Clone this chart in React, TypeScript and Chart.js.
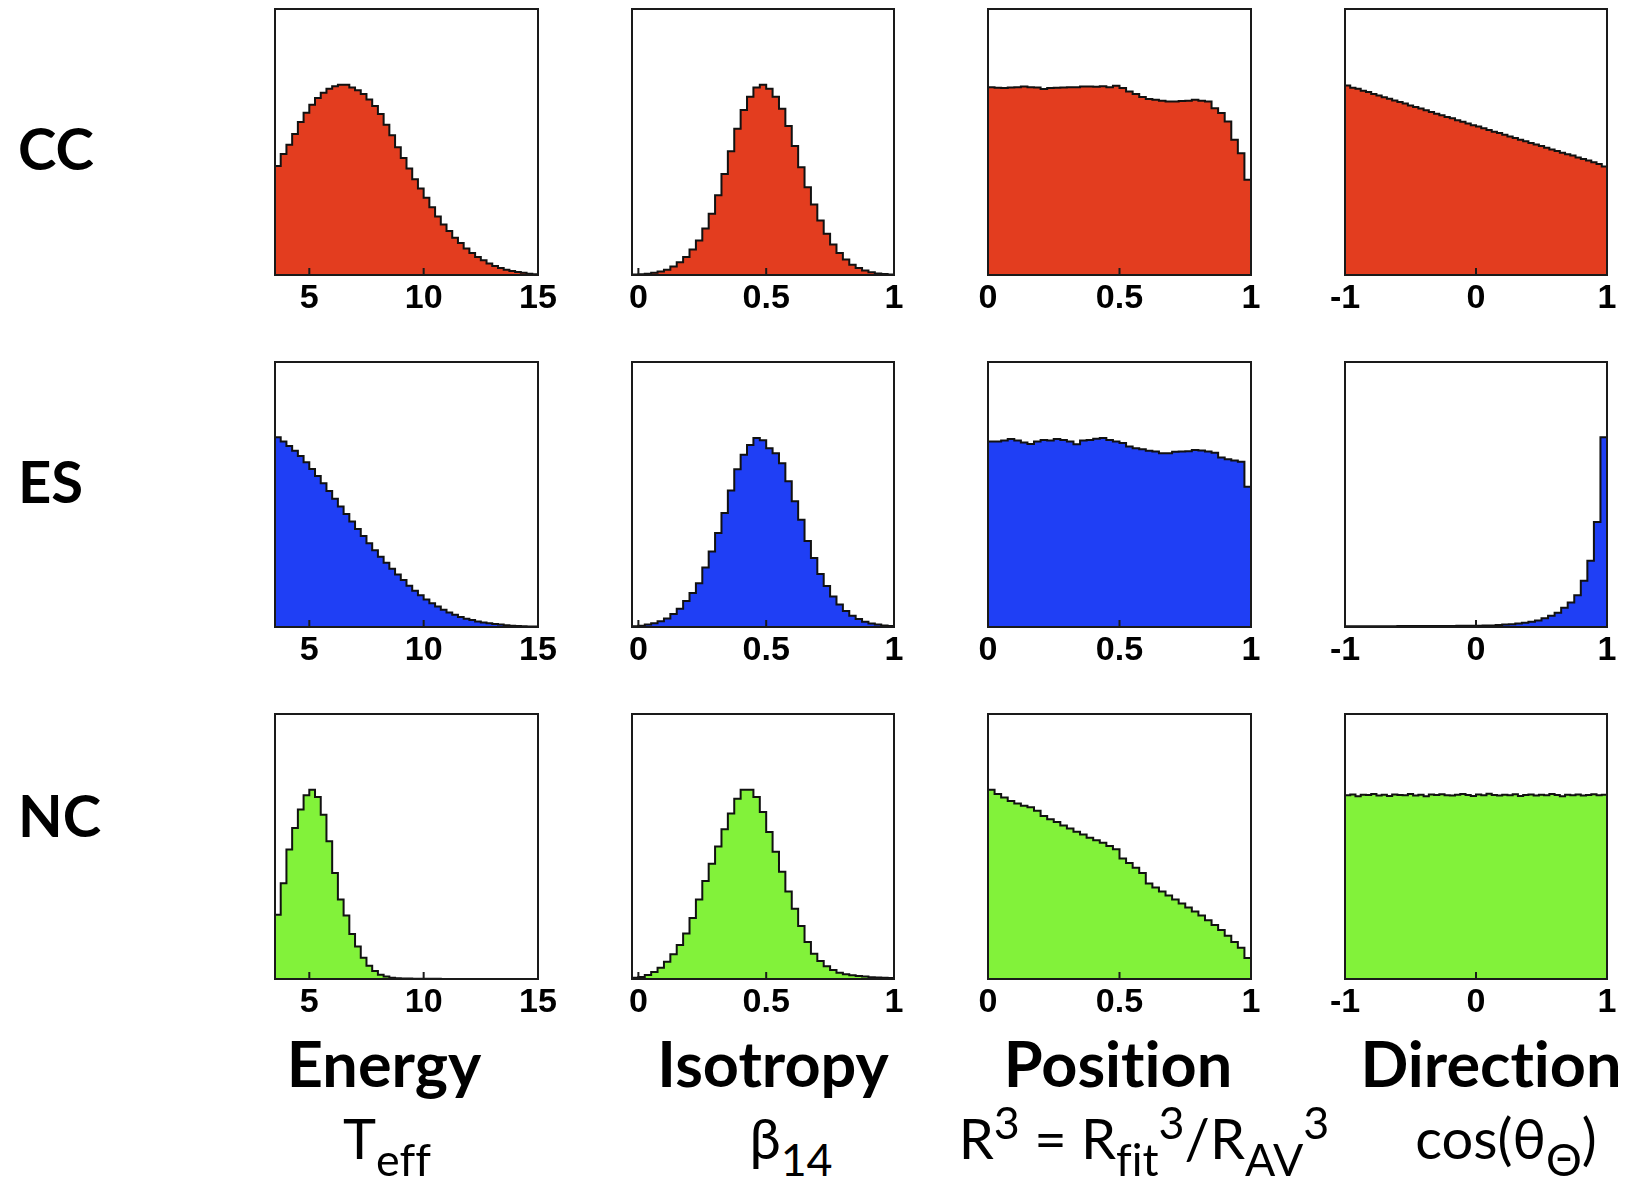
import React, { useEffect, useRef } from "react";
import { Chart, registerables } from "chart.js";
Chart.register(...registerables);

// ---------------- DATA ----------------
const rowLabels = ["CC", "ES", "NC"];
const colTitles = ["Energy", "Isotropy", "Position", "Direction"];

const energyRange = [3.5, 15];
const isotropyRange = [-0.025, 1];
const positionRange = [0, 1];
const directionRange = [-1, 1];

const energyTicks = [5, 10, 15];
const isotropyTicks = [0, 0.5, 1];
const positionTicks = [0, 0.5, 1];
const directionTicks = [-1, 0, 1];

const ccEnergy = [41, 45.5, 49, 53, 57.5, 61, 64, 66.5, 68.5, 70, 71, 71.5, 71.5, 70.5, 69.5, 68, 66, 63.5, 60.5, 56.5, 52.5, 48, 44, 40, 36, 32.5, 29, 25.5, 22, 19, 16.5, 14, 12, 10, 8.3, 6.8, 5.5, 4.3, 3.4, 2.6, 2, 1.5, 1.1, 0.8, 0.5, 0.3];
const ccIsotropy = [0.2, 0.3, 0.5, 0.8, 1.3, 2.0, 3.2, 4.8, 6.8, 9.6, 13, 17.5, 23, 30, 38, 46.5, 55, 62, 67, 70.5, 71.5, 70, 67, 62.5, 56, 48.5, 40.5, 33, 26.5, 20.5, 15.5, 11.5, 8.3, 5.8, 3.9, 2.6, 1.7, 1.0, 0.6, 0.4, 0.2];
const ccPosition = [70.6, 70.4, 70.3, 70.5, 70.6, 70.9, 70.6, 70.5, 69.9, 70.3, 70.4, 70.5, 70.6, 70.6, 70.9, 70.9, 70.8, 71, 70.6, 71.1, 70.3, 69, 68, 66.9, 66.2, 65.9, 65.5, 65.2, 65.2, 65.4, 65.5, 65.9, 65.5, 65.2, 62.7, 60.9, 57.7, 50.8, 45.8, 35.8];
const ccDirection = [71.2, 70.4, 70.0, 69.3, 68.8, 68.0, 67.5, 66.8, 66.3, 65.6, 65.0, 64.5, 63.7, 63.2, 62.6, 61.9, 61.3, 60.6, 60.1, 59.4, 58.9, 58.2, 57.6, 57.0, 56.3, 55.8, 55.2, 54.5, 53.9, 53.4, 52.7, 52.1, 51.5, 50.8, 50.3, 49.6, 49.1, 48.5, 47.8, 47.2, 46.6, 46.0, 45.4, 44.9, 44.2, 43.6, 43.0, 42.4, 41.7, 40.8];

const esEnergy = [71.6, 70.0, 68.3, 66.5, 64.5, 62.2, 59.6, 57.0, 54.2, 51.3, 48.4, 45.5, 42.6, 39.8, 37.0, 34.3, 31.6, 29.0, 26.5, 24.2, 22.0, 19.8, 17.7, 15.6, 13.7, 12.0, 10.4, 9.0, 7.7, 6.5, 5.5, 4.6, 3.8, 3.1, 2.6, 2.1, 1.7, 1.4, 1.1, 0.9, 0.7, 0.5, 0.4, 0.3, 0.2, 0.15];
const esIsotropy = [0.3, 0.5, 0.9, 1.4, 2.2, 3.2, 4.9, 6.9, 9.8, 12.8, 16.5, 22.5, 28.5, 35.5, 43, 51.5, 59.5, 65, 68.7, 71.3, 70.5, 67.5, 65.6, 61.8, 55, 47.5, 40.5, 32.5, 26, 20, 15.5, 11.5, 8.5, 6, 4.2, 3, 2, 1.3, 0.9, 0.6, 0.4];
const esPosition = [70, 70, 70.4, 70.9, 70.4, 69.6, 69.1, 70, 70.6, 70.4, 70.9, 70.6, 70, 69, 70.4, 70.6, 71, 71.3, 70.6, 70, 69.4, 68.1, 67.5, 67.1, 66.5, 66.2, 65.6, 65.6, 66.1, 66.2, 66.3, 66.8, 66.6, 66.2, 65.8, 64, 63.3, 62.8, 62.4, 52.9];
const esDirection = [0.30, 0.30, 0.31, 0.31, 0.32, 0.32, 0.33, 0.33, 0.34, 0.35, 0.35, 0.36, 0.37, 0.38, 0.39, 0.40, 0.42, 0.43, 0.45, 0.47, 0.5, 0.55, 0.6, 0.75, 0.9, 1.0, 1.3, 1.6, 2.0, 2.5, 3.3, 4.2, 5.4, 7.3, 9.2, 12.0, 17.5, 25, 39.6, 71.6];

const ncEnergy = [24.2, 36.1, 48.9, 57, 64, 69.3, 71.4, 68.7, 62, 52, 40, 30, 24, 17, 12.3, 8, 5, 3, 1.6, 0.9, 0.5, 0.3, 0.2, 0.15, 0.1, 0.1, 0.08, 0.06, 0.05, 0.04, 0.03, 0.03, 0.02, 0.02, 0.02, 0.01, 0.01, 0.01, 0.01, 0.01, 0, 0, 0, 0, 0, 0];
const ncIsotropy = [0.5, 0.8, 1.5, 2.6, 4.2, 6.5, 9.3, 12.8, 17.2, 23, 30, 37, 43.5, 50, 56.5, 62.5, 68, 71.4, 71.4, 68.7, 63, 55.5, 48, 40.5, 33, 26.5, 20, 14, 9.5, 6.8, 4.8, 3.4, 2.4, 1.8, 1.4, 1.1, 0.9, 0.7, 0.6, 0.5, 0.4];
const ncPosition = [71.4, 69.8, 68.5, 67.2, 66.2, 65.4, 64.8, 63.5, 61.5, 60.3, 59.2, 57.9, 56.8, 55.6, 54.5, 53.3, 52.4, 51.4, 50.2, 49.0, 45.5, 43.8, 42, 40, 36, 34.5, 33, 31.5, 30, 28.5, 27, 25.5, 24, 22.2, 20.4, 18.5, 16.3, 14, 11.8, 7.9];
const ncDirection = [69.3, 69.6, 69.0, 69.5, 69.4, 69.8, 69.2, 69.5, 69.1, 69.6, 69.4, 69.3, 69.8, 69.2, 69.5, 69.0, 69.6, 69.4, 69.7, 69.3, 69.2, 69.5, 69.8, 69.4, 69.1, 69.6, 69.3, 69.9, 69.4, 69.2, 69.5, 69.3, 69.7, 69.1, 69.4, 69.6, 69.2, 69.5, 69.3, 69.8, 69.4, 69.0, 69.5, 69.3, 69.6, 69.2, 69.4, 69.7, 69.3, 69.5];

const rowColors = ["#e33d1f", "#1f3ff5", "#82f23a"];

const grid = [
  [ccEnergy, ccIsotropy, ccPosition, ccDirection],
  [esEnergy, esIsotropy, esPosition, esDirection],
  [ncEnergy, ncIsotropy, ncPosition, ncDirection],
];
const colRanges = [energyRange, isotropyRange, positionRange, directionRange];
const colTicks = [energyTicks, isotropyTicks, positionTicks, directionTicks];

// ---------------- LAYOUT ----------------
const FRAME_L = [275, 632, 988, 1345];
const FRAME_R = [538, 894, 1251, 1607];
const FRAME_T = [9, 362, 714];
const FRAME_B = [275, 627, 979];
const PADX = 45;
const PADT = 10;
const AXH = 50;

const framePlugin = {
  id: "frameBox",
  afterDatasetsDraw(chart: any) {
    const { ctx, chartArea: a, scales } = chart;
    ctx.save();
    ctx.strokeStyle = "#1a1a1a";
    ctx.lineWidth = 2;
    ctx.strokeRect(a.left, a.top, a.right - a.left, a.bottom - a.top);
    for (const t of scales.x.ticks) {
      const px = scales.x.getPixelForValue(t.value);
      ctx.beginPath();
      ctx.moveTo(px, a.bottom);
      ctx.lineTo(px, a.bottom - 7);
      ctx.stroke();
    }
    ctx.restore();
  },
};

function HistPanel(props: { values: number[]; range: number[]; ticks: number[]; color: string; L: number; R: number; T: number; B: number }) {
  const { values, range, ticks, color, L, R, T, B } = props;
  const ref = useRef<HTMLCanvasElement>(null);
  const width = R - L + 2 * PADX;
  const height = B - T + PADT + AXH;
  useEffect(() => {
    const [min, max] = range;
    const n = values.length;
    const w = (max - min) / n;
    const pts = values.map((v, i) => ({ x: min + i * w, y: v }));
    pts.push({ x: max, y: values[n - 1] });
    const chart = new Chart(ref.current as HTMLCanvasElement, {
      type: "line",
      data: {
        datasets: [
          {
            data: pts,
            stepped: true,
            fill: "origin",
            backgroundColor: color,
            borderColor: "#111",
            borderWidth: 2,
            pointRadius: 0,
            borderJoinStyle: "miter",
          } as any,
        ],
      },
      options: {
        animation: false,
        responsive: false,
        devicePixelRatio: 1,
        layout: { padding: { left: PADX, right: PADX, top: PADT, bottom: 0 } },
        plugins: { legend: { display: false }, tooltip: { enabled: false } },
        scales: {
          x: {
            type: "linear",
            min,
            max,
            afterBuildTicks: (s: any) => {
              s.ticks = ticks.map((v) => ({ value: v }));
            },
            afterFit: (s: any) => {
              s.height = AXH;
            },
            ticks: {
              autoSkip: false,
              maxRotation: 0,
              padding: 3,
              color: "#000",
              font: { family: "Liberation Sans", weight: "bold", size: 34 },
              callback: (v: any) => String(v),
            },
            grid: { display: false, drawTicks: false },
            border: { display: false },
          },
          y: { display: false, min: 0, max: 100 },
        },
      } as any,
      plugins: [framePlugin],
    });
    return () => chart.destroy();
  }, []);
  return (
    <canvas
      ref={ref}
      width={width}
      height={height}
      style={{ position: "absolute", left: L - PADX, top: T - PADT, width, height }}
    />
  );
}

const TITLE_FS = 63;
const SUB_FS = 56;

const titleStyle: React.CSSProperties = {
  position: "absolute",
  fontFamily: "Lato",
  fontWeight: 700,
  fontSize: TITLE_FS,
  lineHeight: 1,
  whiteSpace: "nowrap",
  color: "#000",
  fontVariantLigatures: "none",
  fontFeatureSettings: '"liga" 0, "clig" 0',
};
const rowStyle: React.CSSProperties = { ...titleStyle, fontSize: 58 };
const subStyle: React.CSSProperties = {
  position: "absolute",
  fontFamily: "Lato",
  fontWeight: 400,
  fontSize: SUB_FS,
  lineHeight: 1,
  whiteSpace: "nowrap",
  color: "#000",
  transform: "translateX(-50%)",
  fontVariantLigatures: "none",
  fontFeatureSettings: '"liga" 0, "clig" 0',
};
const sb: React.CSSProperties = { fontSize: "0.8em", verticalAlign: "-0.38em", lineHeight: 0 };
const sp: React.CSSProperties = { fontSize: "0.8em", verticalAlign: "0.45em", lineHeight: 0 };

const rowLabelY = [150, 483, 817];
const titleCX = [384, 773, 1118, 1491];

export default function App() {
  return (
    <div style={{ position: "absolute", left: 0, top: 0, width: 1627, height: 1186, background: "#fff", overflow: "hidden" }}>
      {grid.map((row, r) =>
        row.map((vals, c) => (
          <HistPanel
            key={`${r}-${c}`}
            values={vals}
            range={colRanges[c]}
            ticks={colTicks[c]}
            color={rowColors[r]}
            L={FRAME_L[c]}
            R={FRAME_R[c]}
            T={FRAME_T[r]}
            B={FRAME_B[r]}
          />
        ))
      )}
      {rowLabels.map((lab, r) => (
        <div key={lab} style={{ ...rowStyle, left: 18, top: rowLabelY[r] - 0.527 * 58 }}>
          {lab}
        </div>
      ))}
      {colTitles.map((t, c) => (
        <div key={t} style={{ ...titleStyle, left: titleCX[c], top: 1087 - 0.887 * TITLE_FS, transform: "translateX(-50%)" }}>
          {t}
        </div>
      ))}
      <div style={{ ...subStyle, left: 387, top: 1160 - 0.887 * SUB_FS }}>
        T<span style={sb}>eff</span>
      </div>
      <div style={{ ...subStyle, left: 791, top: 1160 - 0.887 * SUB_FS }}>
        β<span style={sb}>14</span>
      </div>
      <div style={{ ...subStyle, left: 1144, top: 1160 - 0.887 * SUB_FS }}>
        R<span style={sp}>3</span> = R<span style={sb}>fit</span>
        <span style={sp}>3</span>/R<span style={sb}>AV</span>
        <span style={sp}>3</span>
      </div>
      <div style={{ ...subStyle, left: 1506, top: 1160 - 0.887 * SUB_FS }}>
        cos(θ<span style={sb}>Θ</span>)
      </div>
    </div>
  );
}
